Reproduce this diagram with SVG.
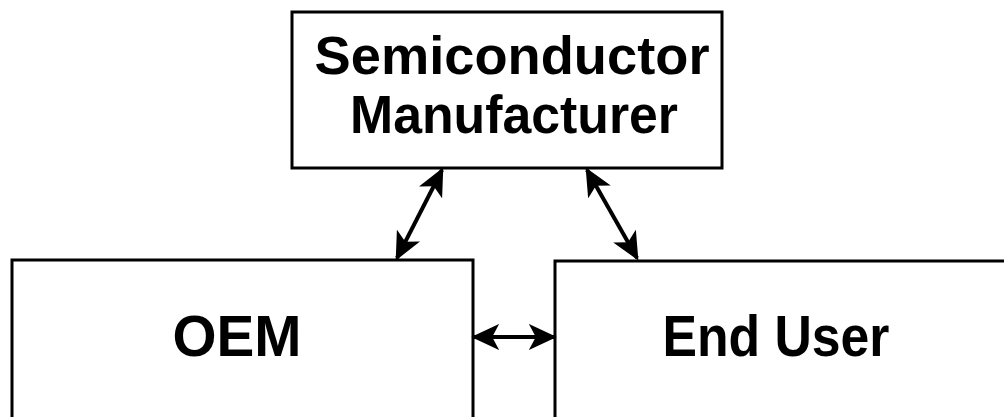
<svg xmlns="http://www.w3.org/2000/svg" width="1004" height="417" viewBox="0 0 1004 417">
<style>
.box{fill:#fff;stroke:#000;stroke-width:3}
.lbl{font-family:"Liberation Sans",Arial,sans-serif;font-weight:bold;font-size:58px;fill:#000;text-anchor:middle}
.sm{font-size:53px}
.conn{stroke:#000;stroke-width:4;fill:none}
</style>
<defs>
<marker id="ah" viewBox="0 0 10 10" refX="9" refY="5" markerWidth="7" markerHeight="6.5" markerUnits="strokeWidth" orient="auto-start-reverse" preserveAspectRatio="none">
<path d="M0,0 L10,5 L0,10 L2.5,5 Z" fill="#000"/>
</marker>
</defs>
<rect width="1004" height="417" fill="#fff"/>
<g id="semi">
<rect class="box" x="292" y="12" width="430" height="156"/>
<text class="lbl sm" x="512" y="74" textLength="395" lengthAdjust="spacingAndGlyphs">Semiconductor</text>
<text class="lbl sm" x="514" y="133" textLength="328" lengthAdjust="spacingAndGlyphs">Manufacturer</text>
</g>
<g id="oem">
<rect class="box" x="12" y="260" width="461" height="170"/>
<text class="lbl" x="237" y="356" textLength="129" lengthAdjust="spacingAndGlyphs">OEM</text>
</g>
<g id="enduser">
<rect class="box" x="555" y="261" width="460" height="170"/>
<text class="lbl" x="776" y="356" textLength="227" lengthAdjust="spacingAndGlyphs">End User</text>
</g>
<g id="connectors">
<line class="conn" x1="442" y1="170" x2="397" y2="258" marker-start="url(#ah)" marker-end="url(#ah)"/>
<line class="conn" x1="587" y1="170" x2="637" y2="258" marker-start="url(#ah)" marker-end="url(#ah)"/>
<line class="conn" x1="474" y1="337" x2="554" y2="337" marker-start="url(#ah)" marker-end="url(#ah)"/>
</g>
</svg>
